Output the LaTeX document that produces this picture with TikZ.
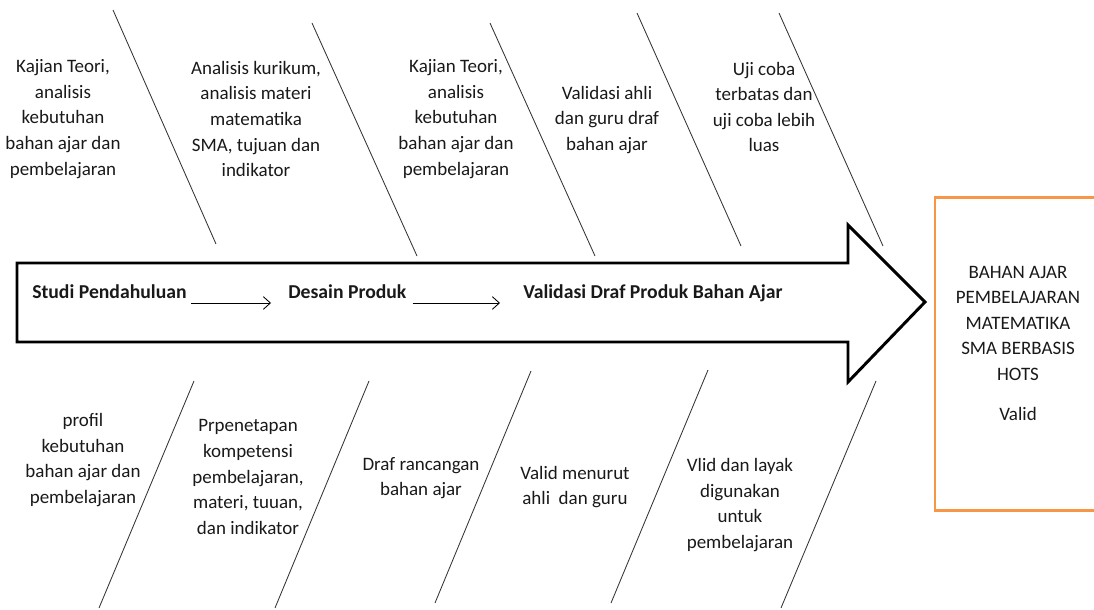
\documentclass[tikz,border=0pt]{standalone}
\usepackage{fontspec}
\setmainfont{Carlito}
\usetikzlibrary{arrows.meta,calc}
\definecolor{oranye}{HTML}{F79646}

\begin{document}
\begin{tikzpicture}
  [x=0.025cm,y=-0.025cm,
   every node/.style={inner sep=0pt,text=black!90},
   sebab/.style={align=center,font=\fontsize{13.5}{18.2}\selectfont},
   tahap/.style={anchor=base west,font=\fontsize{14}{17}\selectfont\bfseries},
   tulang/.style={draw=black!80,line width=0.6pt},
   alur/.style={-{Straight Barb[length=5pt,width=9pt]},line width=0.6pt}]
  \clip (0,0) rectangle (1094,610);

  % panah utama
  \draw[line width=2.1pt,line join=miter] (17,263) -- (848,263) -- (848,225) -- (925,302)
    -- (848,382) -- (848,342) -- (17,342) -- cycle;

  % tulang atas dan bawah
  \foreach \xa/\ya/\xb/\yb in {113/10/216/244, 312/23/417/256, 490/23/595/256,
      637/13/741/246, 779/13/883/246, 194/381/99/608, 369/381/275/608,
      531/371/435/603, 708/370/611/603, 876/381/781/608}
    \draw[tulang] (\xa,\ya) -- (\xb,\yb);

  % tahapan
  \node[tahap] (studi) at (32,299) {Studi Pendahuluan};
  \node[tahap] (desain) at (288,299) {Desain Produk};
  \node[tahap] (validasi) at (523,299) {Validasi Draf Produk Bahan Ajar};
  \draw[alur] ($(studi.base east)+(4,4)$) -- ($(desain.base west)+(-17,4)$);
  \draw[alur] ($(desain.base east)+(6,4)$) -- ($(validasi.base west)+(-23,4)$);

  % keterangan atas
  \node[sebab] (u1) at (63,119) {Kajian Teori,\\analisis\\kebutuhan\\bahan ajar dan\\pembelajaran};
  \node[sebab] (u2) at (256,119) {Analisis kurikum,\\analisis materi\\matematika\\SMA, tujuan dan\\indikator};
  \node[sebab] (u3) at (456,119) {Kajian Teori,\\analisis\\kebutuhan\\bahan ajar dan\\pembelajaran};
  \node[sebab] (u4) at (607,120) {Validasi ahli\\dan guru draf\\bahan ajar};
  \node[sebab] (u5) at (764,107) {Uji coba\\terbatas dan\\uji coba lebih\\luas};

  % keterangan bawah
  \node[sebab] (b1) at (83,460) {profil\\kebutuhan\\bahan ajar dan\\pembelajaran};
  \node[sebab] (b2) at (248,477) {Prpenetapan\\kompetensi\\pembelajaran,\\materi, tuuan,\\dan indikator};
  \node[sebab] (b3) at (421,478) {Draf rancangan\\bahan ajar};
  \node[sebab] (b4) at (575,487) {Valid menurut\\ahli\ \ dan guru};
  \node[sebab] (b5) at (740,505) {Vlid dan layak\\digunakan\\untuk\\pembelajaran};

  % hasil akhir
  \node[draw=oranye,line width=2.1pt,minimum width=4.4cm,minimum height=7.8cm] (kotak) at (1023,354) {};
  \node[sebab] (hasil) at (1018,343) {BAHAN AJAR\\PEMBELAJARAN\\MATEMATIKA\\SMA BERBASIS\\HOTS\\[0.35cm]Valid};
\end{tikzpicture}
\end{document}
